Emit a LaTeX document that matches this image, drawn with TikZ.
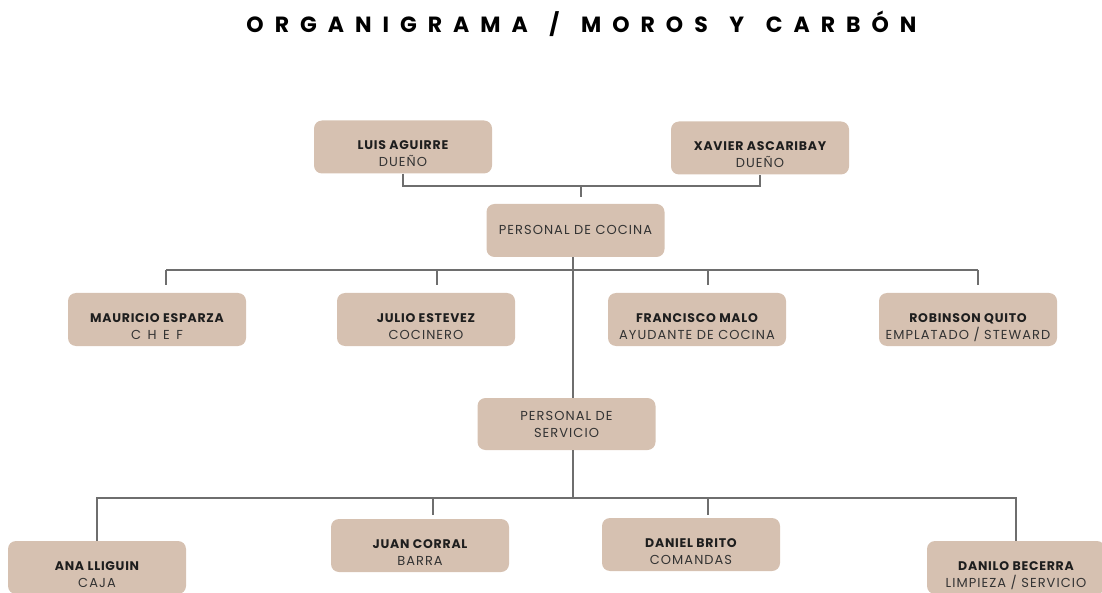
\documentclass[tikz,border=0pt]{standalone}
\usepackage{fontspec}
\setmainfont{Poppins}
\newfontfamily\titlefont[LetterSpace=50]{Poppins}
\newfontfamily\namefont[LetterSpace=6]{Poppins}
\newfontfamily\rolefont[LetterSpace=8]{Poppins}
\definecolor{boxfill}{HTML}{D6C1B1}
\definecolor{linegray}{HTML}{6E6E6E}
\definecolor{namecol}{HTML}{1E1E1E}
\definecolor{rolecol}{HTML}{333333}
\tikzset{
  pbox/.style={fill=boxfill, rounded corners=8pt, minimum width=178pt, minimum height=53pt, inner sep=0pt, draw=none},
  nmtext/.style={anchor=base, font=\namefont\bfseries\fontsize{12.5}{14}\selectfont, text=namecol, inner sep=0pt},
  rltext/.style={anchor=base, font=\rolefont\fontsize{13}{15}\selectfont, text=rolecol, inner sep=0pt},
  conn/.style={draw=linegray, line width=1.3pt}
}
\newcommand{\personbox}[5]{%
  \node[pbox] (#1) at (#2,#3) {};
  \node[nmtext] (#1n) at ([yshift=-3pt]#1.center) {#4};
  \node[rltext] (#1r) at ([yshift=-19.5pt]#1.center) {#5};
}
\begin{document}
\begin{tikzpicture}[x=1pt,y=-1pt]
\useasboundingbox (0,0) rectangle (1102,593);
\begin{scope}
\clip (0,0) rectangle (1102,593);
% title
\node[anchor=base, inner sep=0pt, font=\titlefont\bfseries\fontsize{22}{26}\selectfont, text=black] (title) at (581.5,32.5) {ORGANIGRAMA\hspace{6pt} /\hspace{6pt} MOROS\hspace{6pt} Y\hspace{6pt} CARBÓN};

% owners
\personbox{luis}{403}{147}{LUIS AGUIRRE}{DUEÑO}
\personbox{xavier}{760}{148}{XAVIER ASCARIBAY}{DUEÑO}

% personal de cocina
\node[pbox] (cocina) at (575.5,230.5) {};
\node[rltext] (cocinat) at ([yshift=-4.5pt]cocina.center) {PERSONAL DE COCINA};

% kitchen staff
\personbox{mauricio}{157}{319.5}{MAURICIO ESPARZA}{C\,\,\,H\,\,\,E\,\,\,F}
\personbox{julio}{426}{319.5}{JULIO ESTEVEZ}{COCINERO}
\personbox{francisco}{697}{319.5}{FRANCISCO MALO}{AYUDANTE DE COCINA}
\personbox{robinson}{968}{319.5}{ROBINSON QUITO}{EMPLATADO / STEWARD}

% personal de servicio
\node[pbox, minimum width=178pt, minimum height=52pt] (servicio) at (566.5,424) {};
\node[rltext] (serviciot1) at ([yshift=4pt]servicio.center) {PERSONAL DE};
\node[rltext] (serviciot2) at ([yshift=-13pt]servicio.center) {SERVICIO};

% service staff
\personbox{ana}{97}{567.5}{ANA LLIGUIN}{CAJA}
\personbox{juan}{420}{545.5}{JUAN CORRAL}{BARRA}
\personbox{daniel}{691}{544.5}{DANIEL BRITO}{COMANDAS}
\personbox{danilo}{1016}{567.5}{DANILO BECERRA}{LIMPIEZA / SERVICIO}

% connectors: owners
\coordinate (ownj) at (581,186);
\draw[conn] (luis.south) -- (luis.south |- ownj) -- (xavier.south |- ownj) -- (xavier.south);
\draw[conn] (ownj) -- ++(0,11);

% kitchen bus
\coordinate (kbus) at (573,270);
\coordinate (kL) at ([xshift=9pt]mauricio.north |- kbus);
\coordinate (kR) at ([xshift=10pt]robinson.north |- kbus);
\draw[conn] (kL) -- (kR);
\draw[conn] (kL) -- ++(0,15);
\draw[conn] ([xshift=11pt]julio.north |- kbus) -- ++(0,15);
\draw[conn] ([xshift=11pt]francisco.north |- kbus) -- ++(0,15);
\draw[conn] (kR) -- ++(0,15);

% main spine
\draw[conn] (cocina.south -| kbus) -- (servicio.north -| kbus);
\coordinate (sbus) at (573,498);
\draw[conn] (servicio.south -| kbus) -- (sbus);

% service bus
\draw[conn] (ana.north) -- (ana.north |- sbus) -- (danilo.north |- sbus) -- (danilo.north);
\draw[conn] ([xshift=13pt]juan.north |- sbus) -- ++(0,17);
\draw[conn] ([xshift=17pt]daniel.north |- sbus) -- ++(0,17);
\end{scope}
\end{tikzpicture}
\end{document}
